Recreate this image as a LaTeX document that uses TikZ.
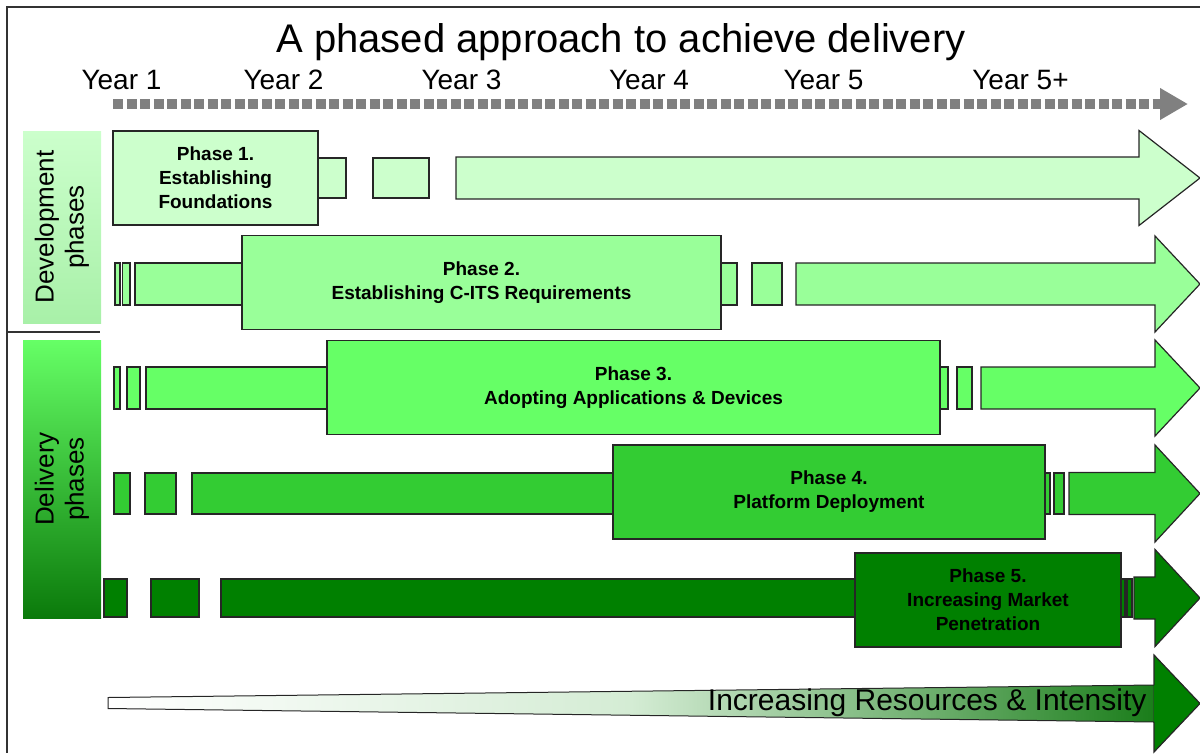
\documentclass[tikz,border=0pt]{standalone}
\usepackage{fontspec}
\setmainfont{Liberation Sans}
\usetikzlibrary{arrows.meta}

\definecolor{phaseA}{HTML}{CCFFCC}
\definecolor{phaseB}{HTML}{99FF99}
\definecolor{phaseC}{HTML}{66FF66}
\definecolor{phaseD}{HTML}{33CC33}
\definecolor{phaseE}{HTML}{008000}
\definecolor{devbot}{HTML}{A8F0A8}
\definecolor{delbot}{HTML}{0B7A0B}
\definecolor{rampmid}{HTML}{D4ECD4}
\definecolor{rampdeep}{HTML}{70B070}
\definecolor{rampend}{HTML}{1A7D1A}

\pgfdeclarehorizontalshading{ramp}{100bp}{color(0bp)=(white); color(25bp)=(white); color(50bp)=(rampmid); color(64bp)=(rampdeep); color(75bp)=(rampend); color(100bp)=(rampend)}

% tail of a phase: from, head base, centre y, half head, fill
\newcommand{\phasearrow}[5]{%
  \draw[seg, fill=#5] (#1,#3-21) -- (#2,#3-21) -- (#2,#3-#4) -- (1200,#3) -- (#2,#3+#4) -- (#2,#3+21) -- (#1,#3+21) -- cycle;}

\begin{document}
\begin{tikzpicture}[
    x=1pt, y=-1pt,
    phasebox/.style={draw=black!85, line width=1.2pt, inner sep=0pt, minimum height=94pt, align=center, font=\fontsize{19}{24}\selectfont\bfseries},
    seg/.style={draw=black!85, line width=1.2pt},
    panel/.style={inner sep=0pt, minimum width=78pt},
    year/.style={font=\fontsize{28}{32}\selectfont},
    sidelabel/.style={rotate=90, align=center, font=\fontsize{26}{30}\selectfont}
]
    \useasboundingbox (0,0) rectangle (1200,753);

    % frame
    \draw[line width=1.5pt, black!80] (1200,7) -- (7,7) -- (7,753);
    \draw[line width=1.5pt, black!80] (7,332) -- (100,332);

    \node[font=\fontsize{40}{48}\selectfont] (title) at (621,42) {A phased approach to achieve delivery};

    \foreach \x/\t [count=\i] in {121.5/Year 1, 283.5/Year 2, 461.5/Year 3, 649/Year 4, 823.5/Year 5, 1020.5/Year 5+}
        \node[year] (year\i) at (\x,80) {\t};

    % time line
    \coordinate (tl) at (113,104);
    \coordinate (tr) at (1188,104);
    \draw[black!50, line width=10pt, dash pattern=on 10pt off 3.5pt, -{Triangle[length=28pt,width=30pt]}] (tl) -- (tr);

    % side panels
    \node[panel, minimum height=192pt, top color=phaseA, bottom color=devbot] (devpanel) at (62,227) {};
    \node[sidelabel] (devlabel) at (devpanel) {Development\\phases};
    \node[panel, minimum height=278pt, top color=phaseC, bottom color=delbot] (delpanel) at (62,479) {};
    \node[sidelabel] (dellabel) at (delpanel) {Delivery\\phases};

    % phase 1
    \draw[seg, fill=phaseA] (318,158) rectangle (346,198);
    \draw[seg, fill=phaseA] (373,158) rectangle (429,198);
    \phasearrow{456}{1139}{178}{47.5}{phaseA}
    \node[phasebox, fill=phaseA, minimum width=205pt] (phase1) at (215.5,178) {Phase 1.\\Establishing\\Foundations};

    % phase 2
    \draw[seg, fill=phaseB] (115,263) rectangle (120,305);
    \draw[seg, fill=phaseB] (122.5,263) rectangle (130,305);
    \draw[seg, fill=phaseB] (135,263) rectangle (242,305);
    \draw[seg, fill=phaseB] (721,263) rectangle (737,305);
    \draw[seg, fill=phaseB] (752,263) rectangle (782,305);
    \phasearrow{796}{1155}{284}{48}{phaseB}
    \node[phasebox, fill=phaseB, minimum width=479pt] (phase2) at (481.5,282.5) {Phase 2.\\Establishing C-ITS Requirements};

    % phase 3
    \draw[seg, fill=phaseC] (114,367) rectangle (120,409);
    \draw[seg, fill=phaseC] (127,367) rectangle (140,409);
    \draw[seg, fill=phaseC] (146,367) rectangle (327,409);
    \draw[seg, fill=phaseC] (940,367) rectangle (948,409);
    \draw[seg, fill=phaseC] (957,367) rectangle (972,409);
    \phasearrow{981}{1155}{388}{48}{phaseC}
    \node[phasebox, fill=phaseC, minimum width=613pt] (phase3) at (633.5,387.5) {Phase 3.\\Adopting Applications \& Devices};

    % phase 4
    \draw[seg, fill=phaseD] (114,473) rectangle (130,514);
    \draw[seg, fill=phaseD] (145,473) rectangle (176,514);
    \draw[seg, fill=phaseD] (192,473) rectangle (613,514);
    \draw[seg, fill=phaseD] (1045,473) rectangle (1050,514);
    \draw[seg, fill=phaseD] (1054,473) rectangle (1064,514);
    \phasearrow{1069}{1155}{493.5}{48.5}{phaseD}
    \node[phasebox, fill=phaseD, minimum width=432pt] (phase4) at (829,492) {Phase 4.\\Platform Deployment};

    % phase 5
    \draw[seg, fill=phaseE] (104,579) rectangle (127,617);
    \draw[seg, fill=phaseE] (151,579) rectangle (199,617);
    \draw[seg, fill=phaseE] (221,579) rectangle (855,617);
    \draw[seg, fill=phaseE] (1121,579) rectangle (1125,617);
    \draw[seg, fill=phaseE] (1127,579) rectangle (1132,617);
    \phasearrow{1134}{1155}{598}{48.5}{phaseE}
    \node[phasebox, fill=phaseE, minimum width=266pt] (phase5) at (988,600) {Phase 5.\\Increasing Market\\Penetration};

    % resources ramp
    \draw[seg, line width=1pt, shading=ramp] (108,697.5) -- (1154,685) -- (1154,722) -- (108,708.5) -- cycle;
    \fill[phaseE] (1154,655) -- (1200,703.5) -- (1154,752) -- cycle;
    \draw[seg] (1154,685) -- (1154,655) -- (1200,703.5) -- (1154,752) -- (1154,722);
    \node[anchor=east, font=\fontsize{30}{36}\selectfont] (intensity) at (1150,703) {Increasing Resources \& Intensity};
\end{tikzpicture}
\end{document}
